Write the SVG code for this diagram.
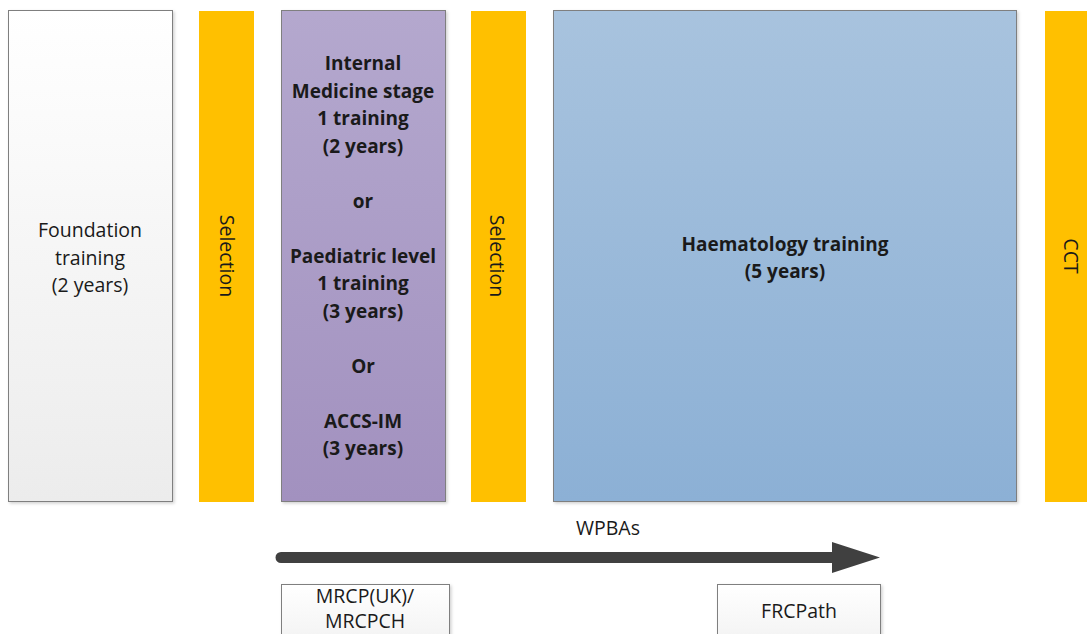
<svg xmlns="http://www.w3.org/2000/svg" width="1087" height="634" viewBox="0 0 1087 634">
  <defs>
    <linearGradient id="gFound" x1="0" y1="0" x2="0" y2="1">
      <stop offset="0" stop-color="#ffffff"/>
      <stop offset="1" stop-color="#ececec"/>
    </linearGradient>
    <linearGradient id="gPurple" x1="0" y1="0" x2="0" y2="1">
      <stop offset="0" stop-color="#b4a8ce"/>
      <stop offset="1" stop-color="#a291bf"/>
    </linearGradient>
    <linearGradient id="gBlue" x1="0" y1="0" x2="0" y2="1">
      <stop offset="0" stop-color="#a8c3de"/>
      <stop offset="1" stop-color="#8cb0d5"/>
    </linearGradient>
    <linearGradient id="gWhite" x1="0" y1="0" x2="0" y2="1">
      <stop offset="0" stop-color="#ffffff"/>
      <stop offset="1" stop-color="#f2f2f2"/>
    </linearGradient>
    <filter id="shadow" x="-5%" y="-5%" width="115%" height="115%">
      <feDropShadow dx="1.5" dy="1.5" stdDeviation="1.5" flood-color="#000000" flood-opacity="0.18"/>
    </filter>
  </defs>
  <style>
    .box { stroke: #7f7f7f; stroke-width: 1; filter: url(#shadow); }
    .bar { fill: #ffc000; }
    .t { font-family: "Open Sans", "Liberation Sans", sans-serif; font-size: 19.5px; fill: #1a1a1a; text-anchor: middle; }
    .b { font-family: "Open Sans", "Liberation Sans", sans-serif; font-size: 19px; font-weight: bold; fill: #1a1a1a; text-anchor: middle; }
  </style>
  <rect width="1087" height="634" fill="#ffffff"/>

  <g id="foundation">
    <rect class="box" x="8.5" y="10.5" width="164" height="491" fill="url(#gFound)"/>
    <text class="t" x="90" y="237">Foundation</text>
    <text class="t" x="90" y="264.5">training</text>
    <text class="t" x="90" y="292">(2 years)</text>
  </g>

  <g id="selection1">
    <rect class="bar" x="199" y="11" width="55" height="491"/>
    <text class="t" transform="translate(226.5,256) rotate(90)" x="0" y="7">Selection</text>
  </g>

  <g id="core">
    <rect class="box" x="281.5" y="10.5" width="164" height="491" fill="url(#gPurple)"/>
    <text class="b" x="363" y="70">Internal</text>
    <text class="b" x="363" y="97.5">Medicine stage</text>
    <text class="b" x="363" y="125">1 training</text>
    <text class="b" x="363" y="152.5">(2 years)</text>
    <text class="b" x="363" y="207.5">or</text>
    <text class="b" x="363" y="262.5">Paediatric level</text>
    <text class="b" x="363" y="290">1 training</text>
    <text class="b" x="363" y="317.5">(3 years)</text>
    <text class="b" x="363" y="372.5">Or</text>
    <text class="b" x="363" y="427.5">ACCS-IM</text>
    <text class="b" x="363" y="455">(3 years)</text>
  </g>

  <g id="selection2">
    <rect class="bar" x="471" y="11" width="55" height="491"/>
    <text class="t" transform="translate(497,256) rotate(90)" x="0" y="7">Selection</text>
  </g>

  <g id="haematology">
    <rect class="box" x="553.5" y="10.5" width="463" height="491" fill="url(#gBlue)"/>
    <text class="b" x="785" y="251">Haematology training</text>
    <text class="b" x="785" y="278">(5 years)</text>
  </g>

  <g id="cct">
    <rect class="bar" x="1045" y="11" width="50" height="491"/>
    <text class="t" transform="translate(1071,256) rotate(90)" x="0" y="7">CCT</text>
  </g>

  <g id="connectors">
    <path d="M 281 552 L 832 552 L 832 542 L 880 557.5 L 832 573 L 832 563 L 281 563 A 5.5 5.5 0 0 1 281 552 Z" fill="#404040"/>
    <text class="t" x="608" y="535">WPBAs</text>
  </g>

  <g id="mrcp">
    <rect class="box" x="281.5" y="584.5" width="168" height="60" fill="url(#gWhite)"/>
    <text class="t" x="365" y="603">MRCP(UK)/</text>
    <text class="t" x="365" y="628">MRCPCH</text>
  </g>

  <g id="frcpath">
    <rect class="box" x="717.5" y="584.5" width="163" height="60" fill="url(#gWhite)"/>
    <text class="t" x="799" y="618">FRCPath</text>
  </g>
</svg>
